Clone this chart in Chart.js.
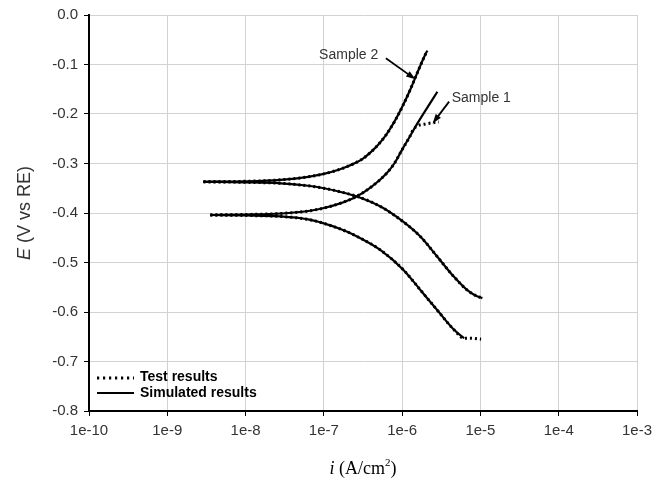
<!DOCTYPE html>
<html>
<head>
<meta charset="utf-8">
<script src="https://cdn.jsdelivr.net/npm/chart.js@4.4.1/dist/chart.umd.min.js"></script>
<style>
  html, body { margin: 0; padding: 0; background: #fff; }
</style>
</head>
<body>
<canvas id="tafel" width="664" height="478"></canvas>
<script>
// current density i (A/cm2) and potential E (V vs RE)
// sample 1 - simulated
var s1AnodicI = [3.55e-9, 1.0e-8, 2.82e-8, 6.31e-8, 1.0e-7, 1.58e-7, 2.51e-7, 3.98e-7, 6.31e-7, 7.94e-7, 1.0e-6, 1.26e-6, 1.58e-6, 2.0e-6, 2.82e-6];
var s1AnodicE = [-0.404, -0.403, -0.401, -0.396, -0.390, -0.381, -0.368, -0.348, -0.320, -0.300, -0.272, -0.245, -0.218, -0.192, -0.155];
var s1CathodicI = [3.55e-9, 1.0e-8, 2.8e-8, 6.3e-8, 1.0e-7, 1.6e-7, 2.4e-7, 5.3e-7, 1.04e-6, 1.72e-6, 2.8e-6, 4.6e-6, 6.2e-6];
var s1CathodicE = [-0.404, -0.405, -0.407, -0.413, -0.421, -0.432, -0.444, -0.475, -0.515, -0.556, -0.596, -0.636, -0.653];
// sample 1 - test (bends away at both ends)
var s1TestAnodicI = [3.55e-9, 1.0e-8, 2.82e-8, 6.31e-8, 1.0e-7, 1.58e-7, 2.51e-7, 3.98e-7, 6.31e-7, 7.94e-7, 1.0e-6, 1.26e-6, 1.38e-6, 1.58e-6, 2.0e-6, 2.51e-6, 2.95e-6];
var s1TestAnodicE = [-0.404, -0.403, -0.401, -0.396, -0.390, -0.381, -0.368, -0.348, -0.320, -0.300, -0.272, -0.245, -0.232, -0.224, -0.220, -0.2175, -0.216];
var s1TestCathodicI = [3.55e-9, 1.0e-8, 2.8e-8, 6.3e-8, 1.0e-7, 1.6e-7, 2.4e-7, 5.3e-7, 1.04e-6, 1.72e-6, 2.8e-6, 4.6e-6, 6.2e-6, 7.6e-6, 1.02e-5];
var s1TestCathodicE = [-0.404, -0.405, -0.407, -0.413, -0.421, -0.432, -0.444, -0.475, -0.515, -0.556, -0.596, -0.636, -0.653, -0.653, -0.655];
// sample 2 - simulated and test overlap
var s2AnodicI = [2.9e-9, 1.0e-8, 2.8e-8, 6.3e-8, 1.0e-7, 1.58e-7, 2.0e-7, 2.51e-7, 3.16e-7, 3.98e-7, 5.01e-7, 6.31e-7, 7.94e-7, 1.0e-6, 1.26e-6, 1.58e-6, 1.91e-6, 2.09e-6];
var s2AnodicE = [-0.337, -0.336, -0.333, -0.327, -0.321, -0.312, -0.306, -0.299, -0.290, -0.277, -0.261, -0.241, -0.216, -0.186, -0.152, -0.115, -0.085, -0.072];
var s2CathodicI = [2.9e-9, 1.0e-8, 2.8e-8, 6.3e-8, 1.0e-7, 1.6e-7, 2.7e-7, 5.3e-7, 1.04e-6, 1.72e-6, 2.8e-6, 4.6e-6, 6.8e-6, 8.5e-6, 1.06e-5];
var s2CathodicE = [-0.337, -0.338, -0.340, -0.345, -0.350, -0.357, -0.367, -0.387, -0.418, -0.448, -0.488, -0.529, -0.556, -0.566, -0.572];

var xTickExp = [-10, -9, -8, -7, -6, -5, -4, -3];
var legendLabels = ['Test results', 'Simulated results'];

// callouts, in data units
var callouts = [
    { text: 'Sample 2', i: 8.7e-8, E: -0.081, from: [6.2e-7, -0.0875], to: [1.48e-6, -0.130] },
    { text: 'Sample 1', i: 4.3e-6, E: -0.167, from: [3.98e-6, -0.175], to: [2.45e-6, -0.219] }
];

function pts(xs, ys) {
    return xs.map(function(v, k) { return { x: v, y: ys[k] } })
}

var sans = "'Liberation Sans', Arial, sans-serif";
var serif = "'Liberation Serif', 'Times New Roman', serif";

function testSet(xs, ys) {
    return { data: pts(xs, ys), borderColor: '#000', borderWidth: 3, borderDash: [2, 3], pointRadius: 0, cubicInterpolationMode: 'monotone', fill: false }
}
function simSet(xs, ys) {
    return { data: pts(xs, ys), borderColor: '#000', borderWidth: 2.2, pointRadius: 0, cubicInterpolationMode: 'monotone', fill: false }
}

function arrow(ctx, x1, y1, x2, y2) {
    var a = Math.atan2(y2 - y1, x2 - x1);
    ctx.beginPath();
    ctx.moveTo(x1, y1);
    ctx.lineTo(x2 - 6 * Math.cos(a), y2 - 6 * Math.sin(a));
    ctx.stroke();
    ctx.beginPath();
    ctx.moveTo(x2, y2);
    ctx.lineTo(x2 - 10 * Math.cos(a - 0.33), y2 - 10 * Math.sin(a - 0.33));
    ctx.lineTo(x2 - 10 * Math.cos(a + 0.33), y2 - 10 * Math.sin(a + 0.33));
    ctx.closePath();
    ctx.fill();
}

var extras = {
    id: 'extras',
    afterDraw: function(chart) {
        var ctx = chart.ctx, xs = chart.scales.x, ys = chart.scales.y, area = chart.chartArea;
        ctx.save();

        // y title, italic E
        ctx.translate(25, (area.top + area.bottom) / 2);
        ctx.rotate(-Math.PI / 2);
        ctx.fillStyle = '#333';
        ctx.textBaseline = 'middle';
        ctx.font = 'italic 18px ' + sans;
        var wE = ctx.measureText('E').width;
        ctx.font = '18px ' + sans;
        var rest = ' (V vs RE)';
        var wR = ctx.measureText(rest).width;
        var x0 = -(wE + wR) / 2;
        ctx.font = 'italic 18px ' + sans;
        ctx.textAlign = 'left';
        ctx.fillText('E', x0, 0);
        ctx.font = '18px ' + sans;
        ctx.fillText(rest, x0 + wE, 0);
        ctx.setTransform(1, 0, 0, 1, 0, 0);

        // x title: i (A/cm2)
        ctx.fillStyle = '#000';
        ctx.textBaseline = 'alphabetic';
        var base = 474;
        ctx.font = 'italic 18px ' + serif;
        var wi = ctx.measureText('i').width;
        ctx.font = '18px ' + serif;
        var p1 = ' (A/cm', p2 = ')';
        var w1 = ctx.measureText(p1).width, w2 = ctx.measureText(p2).width;
        ctx.font = '11px ' + serif;
        var ws = ctx.measureText('2').width;
        var cx = (area.left + area.right) / 2;
        var sx = cx - (wi + w1 + ws + w2) / 2;
        ctx.font = 'italic 18px ' + serif;
        ctx.fillText('i', sx, base);
        ctx.font = '18px ' + serif;
        ctx.fillText(p1, sx + wi, base);
        ctx.font = '11px ' + serif;
        ctx.fillText('2', sx + wi + w1, base - 8);
        ctx.font = '18px ' + serif;
        ctx.fillText(p2, sx + wi + w1 + ws, base);

        // legend, lower left inside the plot
        var lx = area.left + 8, ly = area.bottom - 33;
        ctx.strokeStyle = '#000';
        ctx.lineWidth = 2.8;
        ctx.setLineDash([2.2, 3.8]);
        ctx.beginPath(); ctx.moveTo(lx, ly); ctx.lineTo(lx + 37, ly); ctx.stroke();
        ctx.setLineDash([]);
        ctx.lineWidth = 2;
        ctx.beginPath(); ctx.moveTo(lx, ly + 15); ctx.lineTo(lx + 37, ly + 15); ctx.stroke();
        ctx.font = 'bold 14px ' + sans;
        ctx.fillStyle = '#000';
        ctx.textBaseline = 'middle';
        ctx.textAlign = 'left';
        ctx.fillText(legendLabels[0], lx + 43, ly - 1);
        ctx.fillText(legendLabels[1], lx + 43, ly + 15);

        // sample callouts
        ctx.font = '14px ' + sans;
        ctx.strokeStyle = '#000';
        ctx.lineWidth = 1.8;
        callouts.forEach(function(c) {
            ctx.fillStyle = '#333';
            ctx.fillText(c.text, xs.getPixelForValue(c.i), ys.getPixelForValue(c.E));
            ctx.fillStyle = '#000';
            arrow(ctx, xs.getPixelForValue(c.from[0]), ys.getPixelForValue(c.from[1]),
                  xs.getPixelForValue(c.to[0]), ys.getPixelForValue(c.to[1]));
        });
        ctx.restore();
    }
};

var ctx = document.getElementById('tafel').getContext('2d');
var chart = new Chart(ctx, {
    type: 'line',
    data: {
        datasets: [
            testSet(s1TestAnodicI, s1TestAnodicE),
            testSet(s1TestCathodicI, s1TestCathodicE),
            testSet(s2AnodicI, s2AnodicE),
            testSet(s2CathodicI, s2CathodicE),
            simSet(s1AnodicI, s1AnodicE),
            simSet(s1CathodicI, s1CathodicE),
            simSet(s2AnodicI, s2AnodicE),
            simSet(s2CathodicI, s2CathodicE)
        ]
    },
    options: {
        responsive: false,
        animation: false,
        layout: { padding: { top: 15, right: 27, left: 0, bottom: 0 } },
        plugins: {
            legend: { display: false },
            tooltip: { enabled: false }
        },
        scales: {
            x: {
                type: 'logarithmic',
                position: 'bottom',
                min: 1e-10,
                max: 1e-3,
                afterBuildTicks: function(axis) {
                    axis.ticks = xTickExp.map(function(p) { return { value: Math.pow(10, p) } })
                },
                afterFit: function(axis) { axis.height = 67 },
                grid: { color: '#d2d2d2', tickColor: '#000', tickLength: 5, lineWidth: 1 },
                border: { color: '#000', width: 2 },
                ticks: {
                    autoSkip: false,
                    maxRotation: 0,
                    padding: 6,
                    color: '#333',
                    font: { family: sans, size: 15 },
                    callback: function(v) { return '1e' + Math.round(Math.log10(v)) }
                }
            },
            y: {
                type: 'linear',
                min: -0.8,
                max: 0,
                afterFit: function(axis) { axis.width = 89 },
                grid: { color: '#d2d2d2', tickColor: '#000', tickLength: 5, lineWidth: 1 },
                border: { color: '#000', width: 2 },
                ticks: {
                    stepSize: 0.1,
                    padding: 6,
                    color: '#333',
                    font: { family: sans, size: 15 },
                    callback: function(v) { return Number(v).toFixed(1) }
                }
            }
        }
    },
    plugins: [extras]
});
</script>
</body>
</html>
